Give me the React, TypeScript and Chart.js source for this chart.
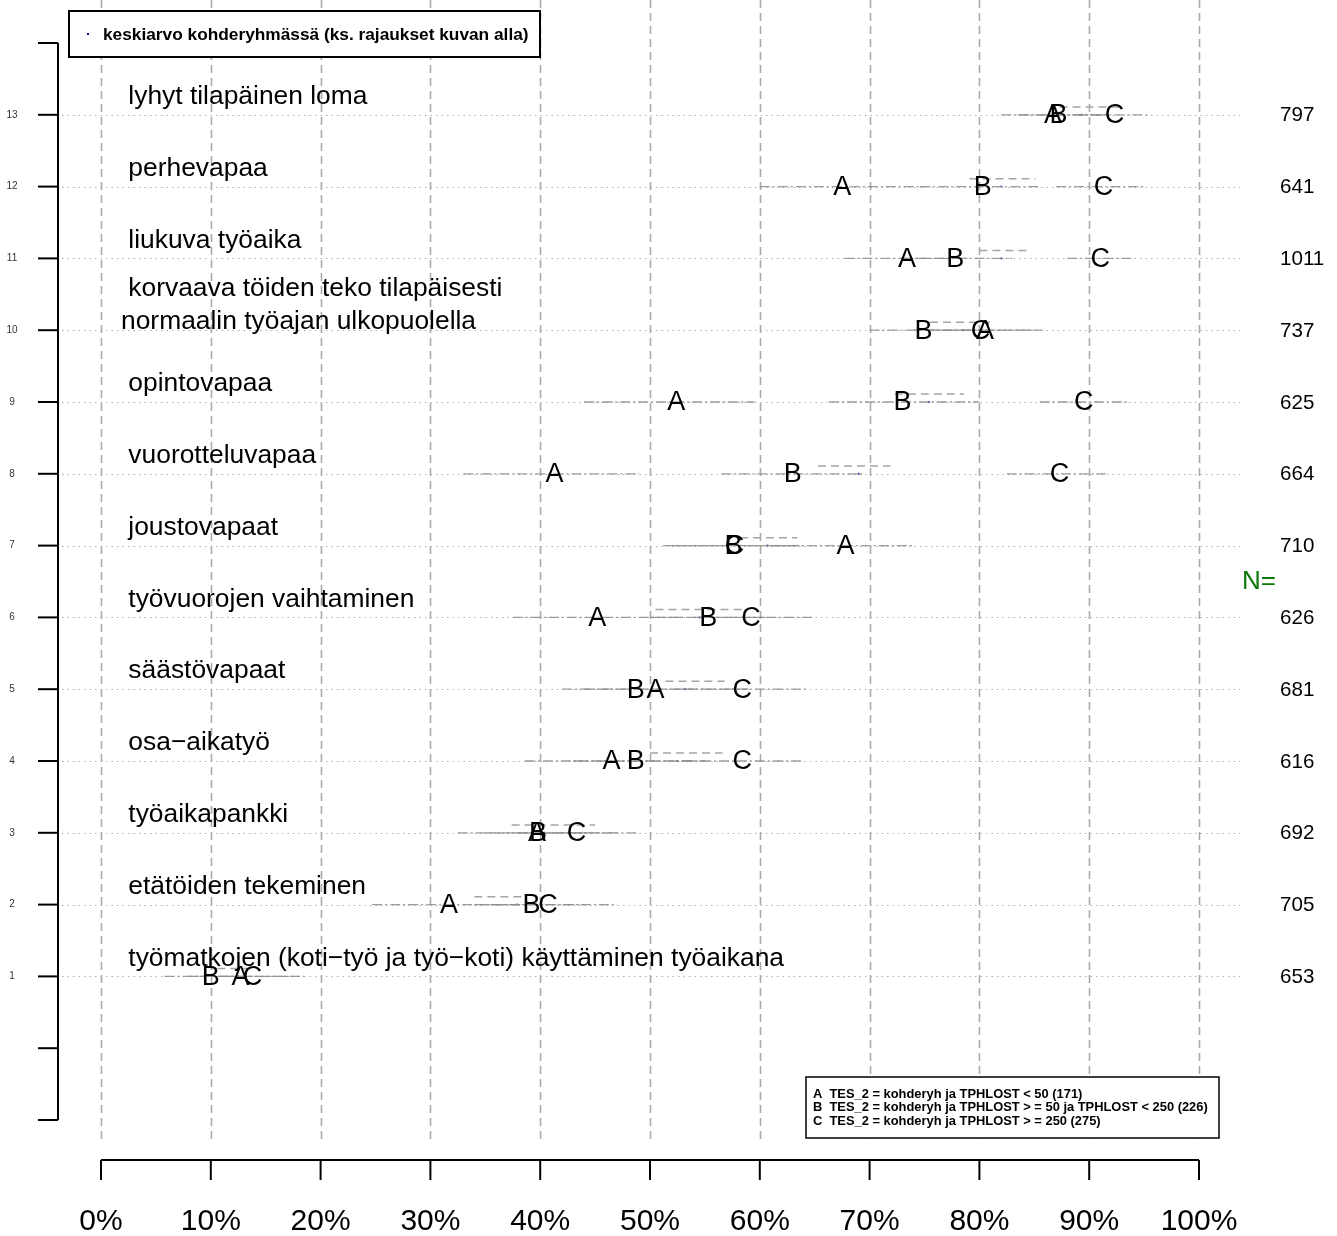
import React, { useEffect, useRef } from "react";
import { Chart, registerables } from "chart.js";

Chart.register(...registerables);

// Row labels (row 1 at the bottom, row 13 at the top)
const rowLabels = [
  " työmatkojen (koti−työ ja työ−koti) käyttäminen työaikana",
  " etätöiden tekeminen",
  " työaikapankki",
  " osa−aikatyö",
  " säästövapaat",
  " työvuorojen vaihtaminen",
  " joustovapaat",
  " vuorotteluvapaa",
  " opintovapaa",
  " korvaava töiden teko tilapäisesti\nnormaalin työajan ulkopuolella",
  " liukuva työaika",
  " perhevapaa",
  " lyhyt tilapäinen loma",
];
const nValues = [653, 705, 692, 616, 681, 626, 710, 664, 625, 737, 1011, 641, 797];

const groupA = [12.7, 31.7, 39.7, 46.5, 50.5, 45.2, 67.8, 41.3, 52.4, 80.5, 73.4, 67.5, 86.7];
const groupALo = [8, 24.7, 32.5, 38.6, 42, 37.5, 61, 33, 44, 75, 67.7, 60, 82];
const groupAHi = [18, 38, 47, 54, 59, 53, 74, 49, 59.5, 86, 79, 75, 91.5];
const groupB = [10, 39.2, 39.8, 48.7, 48.7, 55.3, 57.6, 63, 73, 74.9, 77.8, 80.3, 87.2];
const groupBLo = [5.8, 34, 35, 43, 44, 50, 51.2, 56.5, 66.3, 70, 73, 74.6, 83.5];
const groupBHi = [14, 44, 44.5, 55, 54, 60.5, 64, 69.5, 80, 80, 83, 85.5, 91];
const groupC = [13.8, 40.7, 43.3, 58.4, 58.4, 59.2, 57.7, 87.3, 89.5, 80.1, 91, 91.3, 92.3];
const groupCLo = [9, 35.5, 38, 53, 53, 54, 52, 82.5, 85.5, 74, 88, 87, 89];
const groupCHi = [18.5, 47, 49, 64, 64.3, 64.8, 63, 91.5, 93.5, 85, 94, 95, 95.5];
const targetMean = [12.5, 37.9, 40.4, 52.5, 53.2, 54.5, 60.7, 69, 75.4, 78.5, 82, 82, 89.3];
const targetLo = [10.6, 34, 37.4, 50, 51.4, 50.5, 58.2, 65.3, 72.3, 75.5, 80, 79.1, 87.3];
const targetHi = [14, 38.4, 45, 56.6, 56.8, 58.7, 63.4, 71.9, 78.6, 81.2, 84.6, 85.1, 93.2];

const groupLetters = ["A", "B", "C"];
const xTicks = [0, 10, 20, 30, 40, 50, 60, 70, 80, 90, 100];
const xTickLabels = ["0%", "10%", "20%", "30%", "40%", "50%", "60%", "70%", "80%", "90%", "100%"];
const yTicks = [-1, 0, 1, 2, 3, 4, 5, 6, 7, 8, 9, 10, 11, 12, 13, 14];
const legendTop = "keskiarvo kohderyhmässä (ks. rajaukset kuvan alla)";
const legendGroups = [
  "A  TES_2 = kohderyh ja TPHLOST < 50 (171)",
  "B  TES_2 = kohderyh ja TPHLOST > = 50 ja TPHLOST < 250 (226)",
  "C  TES_2 = kohderyh ja TPHLOST > = 250 (275)",
];

const FONT = "'Liberation Sans', Arial, Helvetica, sans-serif";
const TARGET_OFFSET = 0.11;

export default function App() {
  const ref = useRef<HTMLCanvasElement | null>(null);

  useEffect(() => {
    const canvas = ref.current;
    if (!canvas) return;
    const groups = [
      { v: groupA, lo: groupALo, hi: groupAHi },
      { v: groupB, lo: groupBLo, hi: groupBHi },
      { v: groupC, lo: groupCLo, hi: groupCHi },
    ];
    const datasets: any[] = [];
    groups.forEach((g) => {
      g.v.forEach((_, i) => {
        datasets.push({
          data: [
            { x: g.lo[i], y: i + 1 },
            { x: g.hi[i], y: i + 1 },
          ],
          showLine: true,
          borderColor: "rgba(140,140,140,0.85)",
          borderWidth: 1.3,
          borderDash: [10, 3, 2, 3],
          pointRadius: 0,
        });
      });
    });
    targetMean.forEach((_, i) => {
      datasets.push({
        data: [
          { x: targetLo[i], y: i + 1 + TARGET_OFFSET },
          { x: targetHi[i], y: i + 1 + TARGET_OFFSET },
        ],
        showLine: true,
        borderColor: "rgba(165,165,165,1)",
        borderWidth: 1.5,
        borderDash: [8, 5],
        pointRadius: 0,
      });
    });
    datasets.push({
      data: targetMean.map((m, i) => ({ x: m, y: i + 1 })),
      showLine: false,
      pointRadius: 1,
      pointBorderWidth: 0,
      backgroundColor: "#1010a0",
      borderColor: "#1010a0",
    });

    const deco = {
      id: "deco",
      beforeDatasetsDraw(chart: any) {
        const ctx = chart.ctx;
        const xs = chart.scales.x;
        const ys = chart.scales.y;
        ctx.save();
        ctx.fillStyle = "#ffffff";
        ctx.fillRect(0, 0, chart.width, chart.height);
        // vertical dashed grid
        ctx.strokeStyle = "#aaaaaa";
        ctx.lineWidth = 1.6;
        ctx.setLineDash([8, 5]);
        xTicks.forEach((t) => {
          const px = Math.round(xs.getPixelForValue(t)) + 0.5;
          ctx.beginPath();
          ctx.moveTo(px, 0);
          ctx.lineTo(px, ys.getPixelForValue(-1) + 24);
          ctx.stroke();
        });
        // horizontal dotted row lines
        ctx.strokeStyle = "#b0b0b0";
        ctx.lineWidth = 1;
        ctx.setLineDash([1.5, 4]);
        rowLabels.forEach((_, i) => {
          const py = Math.round(ys.getPixelForValue(i + 1)) + 0.5;
          ctx.beginPath();
          ctx.moveTo(62, py);
          ctx.lineTo(1240, py);
          ctx.stroke();
        });
        ctx.setLineDash([]);
        // y axis
        ctx.strokeStyle = "#000";
        ctx.lineWidth = 2;
        const yTop = ys.getPixelForValue(14);
        const yBot = ys.getPixelForValue(-1);
        ctx.beginPath();
        ctx.moveTo(58, yTop);
        ctx.lineTo(58, yBot);
        ctx.stroke();
        yTicks.forEach((t) => {
          const py = ys.getPixelForValue(t);
          ctx.beginPath();
          ctx.moveTo(38, py);
          ctx.lineTo(58, py);
          ctx.stroke();
        });
        ctx.fillStyle = "#333";
        ctx.font = `10px ${FONT}`;
        ctx.textAlign = "center";
        ctx.textBaseline = "middle";
        yTicks.forEach((t) => {
          if (t >= 1 && t <= 13) ctx.fillText(String(t), 12, ys.getPixelForValue(t));
        });
        // x axis
        const axisY = yBot + 40;
        ctx.beginPath();
        ctx.moveTo(xs.getPixelForValue(0), axisY);
        ctx.lineTo(xs.getPixelForValue(100), axisY);
        ctx.stroke();
        ctx.font = `30px ${FONT}`;
        ctx.fillStyle = "#000";
        xTicks.forEach((t, k) => {
          const px = xs.getPixelForValue(t);
          ctx.beginPath();
          ctx.moveTo(px, axisY);
          ctx.lineTo(px, axisY + 20);
          ctx.stroke();
          ctx.fillText(xTickLabels[k], px, axisY + 62);
        });
        ctx.restore();
      },
      afterDatasetsDraw(chart: any) {
        const ctx = chart.ctx;
        const xs = chart.scales.x;
        const ys = chart.scales.y;
        ctx.save();
        ctx.fillStyle = "#000";
        // group letters
        ctx.font = `27px ${FONT}`;
        ctx.textAlign = "center";
        ctx.textBaseline = "middle";
        groups.forEach((g, gi) => {
          g.v.forEach((v, i) => {
            ctx.fillText(groupLetters[gi], xs.getPixelForValue(v), ys.getPixelForValue(i + 1) + 1);
          });
        });
        // row labels
        ctx.font = `26.4px ${FONT}`;
        ctx.textAlign = "left";
        rowLabels.forEach((lab, i) => {
          const py = ys.getPixelForValue(i + 1);
          const lines = lab.split("\n");
          lines.forEach((ln, k) => {
            const off = (lines.length - 1 - k) * 33;
            ctx.fillText(ln, 121, py - 18 - off + 10 * (lines.length - 1));
          });
        });
        // N values
        ctx.font = `20.6px ${FONT}`;
        nValues.forEach((n, i) => {
          ctx.fillText(String(n), 1280, ys.getPixelForValue(i + 1) + 1);
        });
        ctx.fillStyle = "#0a780a";
        ctx.font = `26px ${FONT}`;
        ctx.fillText("N=", 1242, ys.getPixelForValue(6.5));
        // top legend
        ctx.fillStyle = "#fff";
        ctx.fillRect(69, 11, 471, 46);
        ctx.strokeStyle = "#000";
        ctx.lineWidth = 2;
        ctx.strokeRect(69, 11, 471, 46);
        ctx.fillStyle = "#1010a0";
        ctx.fillRect(87, 33, 2, 2);
        ctx.fillStyle = "#000";
        ctx.font = `bold 17.3px ${FONT}`;
        ctx.fillText(legendTop, 103, 35);
        // bottom legend
        ctx.fillStyle = "#fff";
        ctx.fillRect(806, 1077, 413, 61);
        ctx.lineWidth = 1.5;
        ctx.strokeRect(806, 1077, 413, 61);
        ctx.fillStyle = "#000";
        ctx.font = `bold 12.9px ${FONT}`;
        legendGroups.forEach((t, k) => {
          ctx.fillText(t, 813, 1094 + k * 13.5);
        });
        ctx.restore();
      },
    };

    const chart = new Chart(canvas, {
      type: "scatter",
      data: { datasets },
      options: {
        animation: false,
        responsive: false,
        devicePixelRatio: 1,
        layout: { padding: { left: 101, right: 138, top: 43, bottom: 116 } },
        plugins: { legend: { display: false }, tooltip: { enabled: false } },
        scales: {
          x: { type: "linear", min: 0, max: 100, display: false },
          y: { type: "linear", min: -1, max: 14, display: false },
        },
      },
      plugins: [deco],
    });
    return () => chart.destroy();
  }, []);

  return (
    <div style={{ position: "fixed", left: 0, top: 0, width: 1337, height: 1236, background: "#fff" }}>
      <canvas ref={ref} width={1337} height={1236} style={{ display: "block" }} />
    </div>
  );
}
